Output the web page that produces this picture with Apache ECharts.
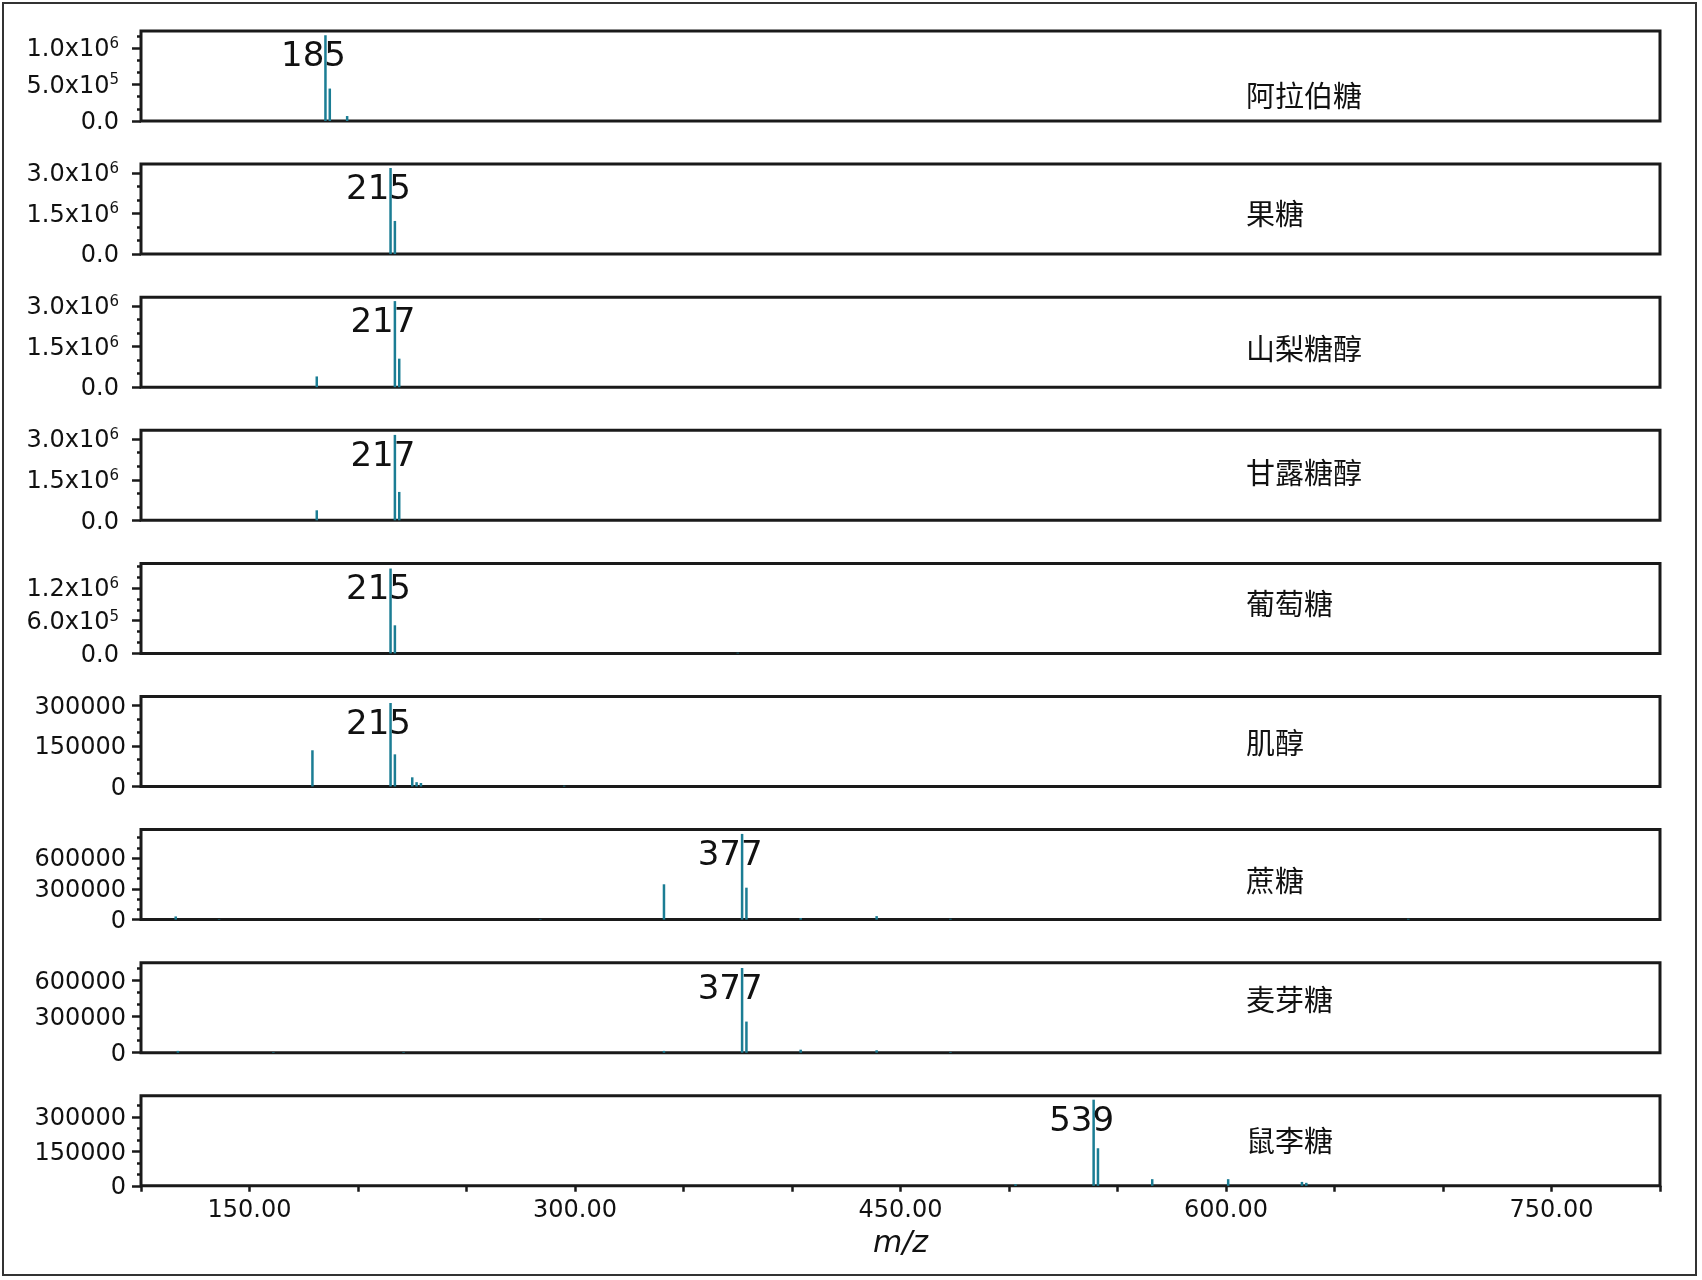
<!DOCTYPE html>
<html>
<head>
<meta charset="UTF-8">
<title>糖类质谱</title>
<script src="https://cdn.jsdelivr.net/npm/echarts@6/dist/echarts.min.js"></script>
</head>
<body style="margin:0;background:#fff">
<div id="main" style="width:1702px;height:1280px;"></div>
<script>
// sample names, one per panel (top to bottom)
var names = ['阿拉伯糖', '果糖', '山梨糖醇', '甘露糖醇', '葡萄糖', '肌醇', '蔗糖', '麦芽糖', '鼠李糖'];
// labelled base peak of each panel
var basePeak = [185, 215, 217, 217, 215, 215, 377, 377, 539];

// peaks: m/z and intensity
var mzArabinose = [185, 187, 195];
var inArabinose = [1174000, 444000, 68000];
var mzFructose = [215, 217];
var inFructose = [3186000, 1227000];
var mzSorbitol = [181, 217, 219];
var inSorbitol = [398000, 3186000, 1056000];
var mzMannitol = [181, 217, 219];
var inMannitol = [370000, 3160000, 1050000];
var mzGlucose = [215, 217, 375];
var inGlucose = [1556000, 515000, 12000];
var mzInositol = [179, 215, 217, 225, 227, 229, 295];
var inInositol = [134000, 309000, 119000, 34000, 16000, 13000, 3000];
var mzSucrose = [116, 136, 284, 341, 377, 379, 404, 439, 473, 684];
var inSucrose = [31000, 5000, 5000, 344000, 835000, 311000, 15000, 34000, 8000, 8000];
var mzMaltose = [117, 161, 221, 341, 377, 379, 404, 439, 473];
var inMaltose = [15000, 5000, 5000, 15000, 702000, 258000, 25000, 20000, 6000];
var mzRhamnose = [503, 539, 541, 566, 601, 635, 637];
var inRhamnose = [7000, 376000, 164000, 29000, 29000, 17000, 13000];

var mzList = [mzArabinose, mzFructose, mzSorbitol, mzMannitol, mzGlucose, mzInositol, mzSucrose, mzMaltose, mzRhamnose];
var inList = [inArabinose, inFructose, inSorbitol, inMannitol, inGlucose, inInositol, inSucrose, inMaltose, inRhamnose];

// y axes: labelled ticks and top of each panel
var yTicks = [
  [0, 500000, 1000000],
  [0, 1500000, 3000000],
  [0, 1500000, 3000000],
  [0, 1500000, 3000000],
  [0, 600000, 1200000],
  [0, 150000, 300000],
  [0, 300000, 600000],
  [0, 300000, 600000],
  [0, 150000, 300000]
];
var yMax = [1232000, 3330000, 3330000, 3330000, 1650000, 333000, 877000, 746000, 393000];
var sciLabels = [true, true, true, true, true, false, false, false, false];

// x axis
var xMin = 100, xMax = 800, xStep = 50;
var xLabelTicks = [150, 300, 450, 600, 750];

var chart = echarts.init(document.getElementById('main'));

var ink = '#1a1a1a';
var peakColor = '#1b7d94';
var panelTop = 31, panelGap = 133.1, panelH = 90;
var nameY = [95.5, 213.9, 348.5, 473.3, 603.6, 742.5, 880.6, 1000.2, 1140.8];

function sci(v) {
  if (v === 0) return '0.0';
  var e = Math.floor(Math.log10(v) + 1e-9);
  var m = (v / Math.pow(10, e)).toFixed(1);
  return '{a|' + m + 'x10}{e|' + e + '}';
}

var grids = [], xAxes = [], yAxes = [], series = [], graphics = [];

graphics.push({
  type: 'rect', shape: { x: 3, y: 3, width: 1693, height: 1272 },
  style: { fill: null, stroke: '#333', lineWidth: 2 }, silent: true
});

for (var k = 0; k < 9; k++) {
  var last = k === 8;
  grids.push({
    left: 141, width: 1519, top: panelTop + panelGap * k, height: panelH,
    show: true, borderColor: ink, borderWidth: 3, backgroundColor: 'transparent'
  });
  xAxes.push({
    gridIndex: k, type: 'value', min: xMin, max: xMax, interval: xStep,
    axisLine: { show: false }, splitLine: { show: false },
    axisTick: { show: last, length: 6, lineStyle: { color: ink, width: 2.5 } },
    axisLabel: {
      show: last, customValues: xLabelTicks, margin: 13,
      formatter: function (v) { return v.toFixed(2); },
      fontSize: 24, fontFamily: 'DejaVu Sans', color: '#111'
    },
    name: last ? 'm/z' : '', nameLocation: 'middle', nameGap: 43,
    nameTextStyle: { fontStyle: 'italic', fontSize: 30, fontFamily: 'DejaVu Sans', color: '#111' }
  });
  var step = yTicks[k][1] / 3, minors = [];
  for (var t = step; t < yMax[k]; t += step) minors.push(Math.round(t));
  var useSci = sciLabels[k];
  yAxes.push({
    gridIndex: k, type: 'value', min: 0, max: yMax[k], position: 'left',
    axisLine: { show: false }, splitLine: { show: false },
    axisTick: { show: true, customValues: yTicks[k], length: 9, lineStyle: { color: ink, width: 2.5 } },
    axisLabel: {
      customValues: yTicks[k], margin: useSci ? 22 : 15,
      formatter: useSci ? sci : function (v) { return String(v); },
      fontSize: 24, fontFamily: 'DejaVu Sans', color: '#111', padding: [4, 0, 0, 0],
      rich: {
        a: { fontSize: 24, fontFamily: 'DejaVu Sans', color: '#111', lineHeight: 27 },
        e: { fontSize: 15, fontFamily: 'DejaVu Sans', color: '#111', verticalAlign: 'top', lineHeight: 16 }
      }
    }
  });
  yAxes.push({
    gridIndex: k, type: 'value', min: 0, max: yMax[k], position: 'left',
    axisLine: { show: false }, splitLine: { show: false }, axisLabel: { show: false },
    axisTick: { show: true, customValues: minors, length: 4, lineStyle: { color: ink, width: 2.5 } }
  });
  var data = mzList[k].map(function (m, i) {
    if (m === basePeak[k]) {
      return { value: [m, inList[k][i]], label: { show: true, formatter: String(m) } };
    }
    return [m, inList[k][i]];
  });
  series.push({
    type: 'bar', xAxisIndex: k, yAxisIndex: 2 * k, barWidth: 2.5,
    itemStyle: { color: peakColor }, silent: true,
    label: {
      show: false, position: 'insideTop', distance: 2, offset: [-12, 3],
      fontSize: 34, fontFamily: 'DejaVu Sans', color: '#111'
    },
    data: data
  });
  graphics.push({
    type: 'text', x: 1246, y: nameY[k], silent: true,
    style: {
      text: names[k], font: '29px "Noto Sans CJK SC"', fill: '#111',
      align: 'left', verticalAlign: 'middle'
    }
  });
}

chart.setOption({
  backgroundColor: '#fff',
  animation: false,
  grid: grids,
  xAxis: xAxes,
  yAxis: yAxes,
  series: series,
  graphic: graphics
});
</script>
</body>
</html>
